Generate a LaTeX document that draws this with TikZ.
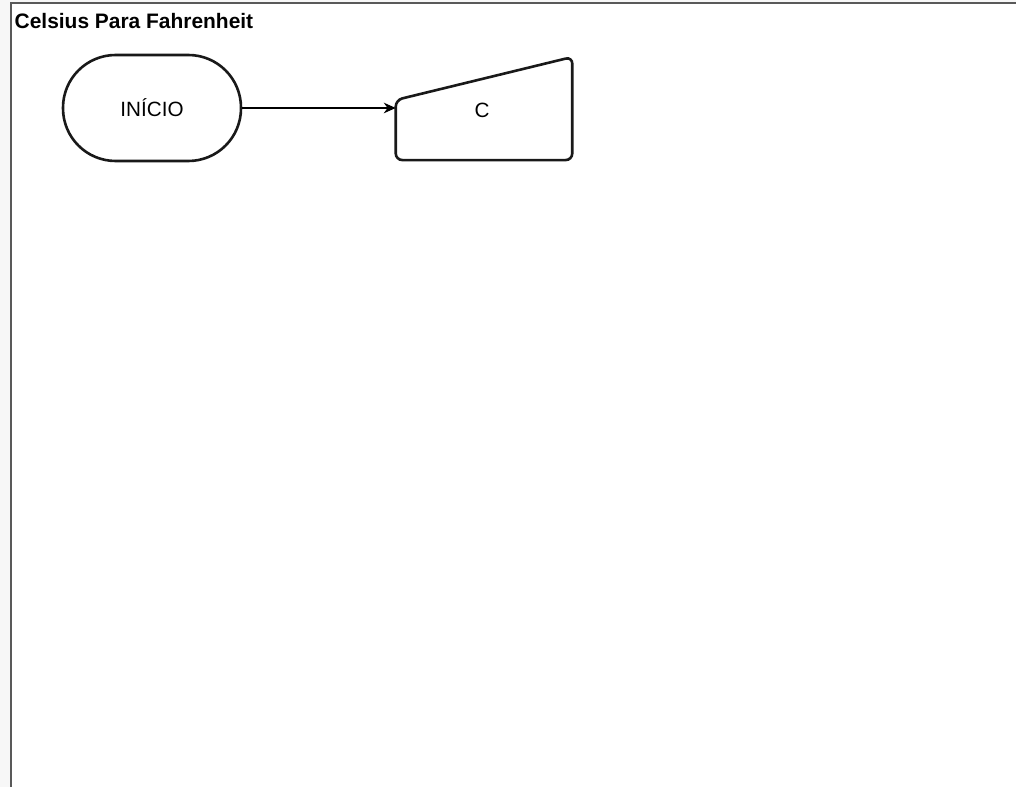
\documentclass[tikz,border=0pt]{standalone}
\usepackage{fontspec}
\setmainfont{Liberation Sans}
\usetikzlibrary{arrows.meta}
\begin{document}
\begin{tikzpicture}[x=0.75pt,y=-0.75pt,
  shapeline/.style={draw=black!90, line width=1.95pt},
  terminal/.style={shapeline, rectangle, rounded corners=39.5pt, minimum width=133.5pt, minimum height=79.5pt, inner sep=0pt, font=\fontsize{15.5}{18}\selectfont},
  manualbox/.style={rectangle, draw=none, minimum width=132pt, minimum height=77pt, inner sep=0pt, font=\fontsize{15.5}{18}\selectfont},
  flow/.style={line width=1pt, -{Stealth[length=9pt,width=8pt]}},
  frameline/.style={draw=black!65, line width=1.6pt}]
\useasboundingbox (0,0) rectangle (1016,787);
\fill[black!3] (0,0) rectangle (1016,787);
\fill[white] (11,3) rectangle (1016,787);
\draw[frameline] (1016,3) -- (11,3) -- (11,787);
\node[anchor=base west, font=\bfseries\fontsize{15.7}{18}\selectfont] (title) at (10,29) {Celsius Para Fahrenheit};
\node[terminal] (inicio) at (152,108) {INÍCIO};
\node[manualbox] (c) at (484,108.5) {};
\node at (482,110) (clabel) {\fontsize{15.5}{18}\selectfont C};
\draw[shapeline, rounded corners=5pt] (c.west |- 0,100) -- (c.east |- 0,57) -- (c.south east) -- (c.south west) -- cycle;
\draw[flow] (inicio.east) -- (inicio.east -| c.west);
\end{tikzpicture}
\end{document}
